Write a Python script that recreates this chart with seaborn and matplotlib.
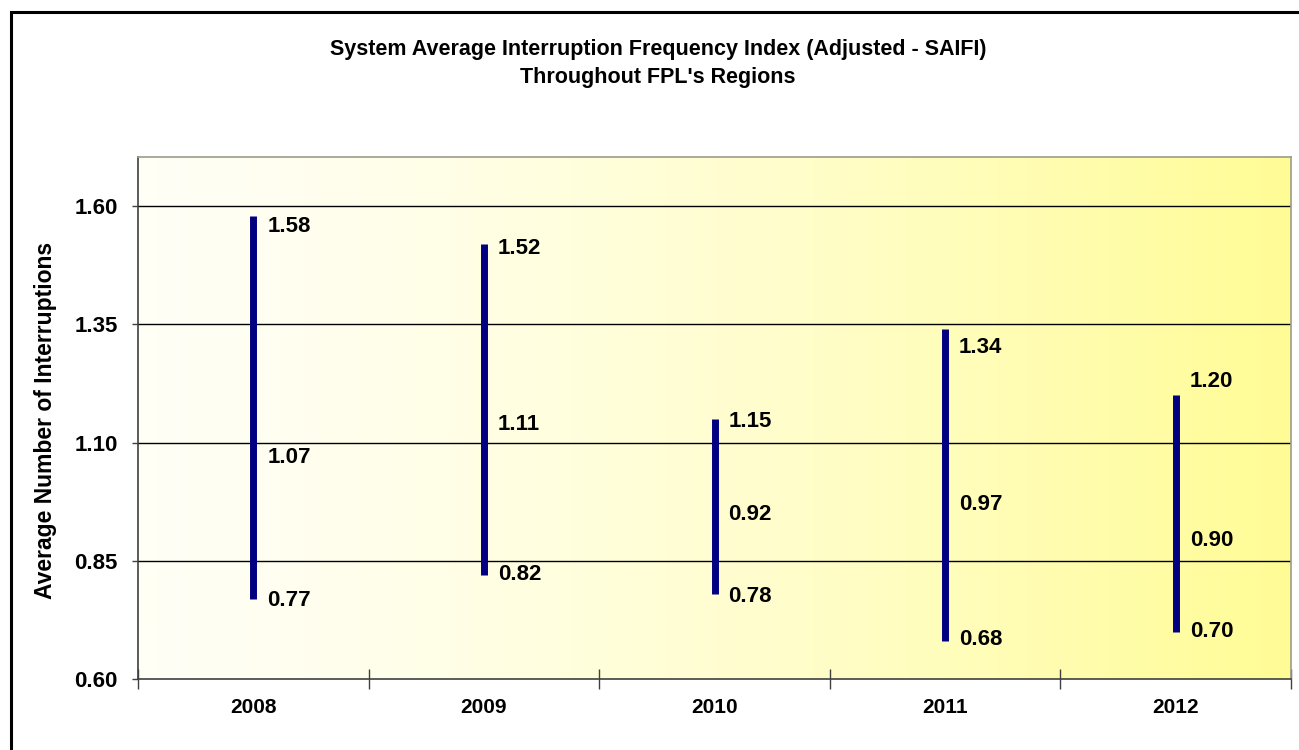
import numpy as np
import pandas as pd
import matplotlib
matplotlib.use("Agg")
import matplotlib.pyplot as plt
from matplotlib.patches import Rectangle
from matplotlib.colors import LinearSegmentedColormap
import seaborn as sns

# SAIFI by year: highest, middle and lowest regional values
years = ["2008", "2009", "2010", "2011", "2012"]
high_vals = [1.58, 1.52, 1.15, 1.34, 1.20]
mid_vals = [1.07, 1.11, 0.92, 0.97, 0.90]
low_vals = [0.77, 0.82, 0.78, 0.68, 0.70]
y_ticks = [0.60, 0.85, 1.10, 1.35, 1.60]

# vertical nudges (pixels, positive = down) for the value labels
high_nudge = [11, 5, 3, 18, -14]
mid_nudge = [1, -13, -13, 0, 3]
low_nudge = [2, 0, 3, -2, 0]

sns.set_theme(style="white")
plt.rcParams["font.family"] = ["Liberation Sans", "DejaVu Sans"]
plt.rcParams["font.weight"] = "bold"
plt.rcParams["text.color"] = "black"
plt.rcParams["xtick.color"] = "black"
plt.rcParams["ytick.color"] = "black"

W, H = 1299, 750
fig = plt.figure(figsize=(W / 100, H / 100), dpi=100)
fig.patch.set_facecolor("white")

# outer chart frame
fig.patches.append(Rectangle((11 / W, -0.2), 1.2, (H - 12) / H + 0.2,
                             transform=fig.transFigure, fill=False,
                             edgecolor="black", linewidth=2.2, zorder=0))

ax = fig.add_axes([138 / W, 1 - 679 / H, (1291 - 138) / W, (679 - 157) / H])

# white-to-yellow plot area fill
cmap = LinearSegmentedColormap.from_list("wy", ["#FFFFF5", "#FFFC96"])
grad = np.linspace(0, 1, 512) ** 1.4
ax.imshow(grad[np.newaxis, :], aspect="auto", cmap=cmap, vmin=0, vmax=1,
          extent=[0, 1, 0, 1], transform=ax.transAxes, zorder=0)

pos = np.arange(len(years))
df = pd.DataFrame({
    "year": years * 2,
    "pos": np.concatenate([pos, pos]),
    "value": low_vals + high_vals,
})
sns.lineplot(data=df, x="pos", y="value", units="year", estimator=None,
             color="#000080", linewidth=5, ax=ax, zorder=3,
             solid_capstyle="butt", legend=False)

ax.set_xlim(-0.5, len(years) - 0.5)
ax.set_ylim(0.60, 1.704)

for yv in y_ticks[1:]:
    ax.axhline(yv, color="black", linewidth=1.0, zorder=2)

def label(i, v, nudge):
    ax.annotate(f"{v:.2f}", xy=(pos[i], v), xytext=(14 * 0.72, -nudge * 0.72),
                textcoords="offset points", ha="left", va="center",
                fontsize=16, fontweight="bold", color="black", zorder=4)

for i in range(len(years)):
    label(i, high_vals[i], high_nudge[i])
    label(i, mid_vals[i], mid_nudge[i])
    label(i, low_vals[i], low_nudge[i])

# axes ticks
ax.set_yticks(y_ticks)
ax.set_yticklabels([f"{v:.2f}" for v in y_ticks], fontsize=16, fontweight="bold")
ax.set_xticks(pos)
ax.set_xticklabels(years, fontsize=15, fontweight="bold")
ax.set_xticks(np.arange(-0.5, len(years), 1.0), minor=True)
ax.tick_params(axis="x", which="major", length=0, pad=14)
ax.tick_params(axis="x", which="minor", length=14, width=1, direction="inout",
               color="#404040", bottom=True)
ax.tick_params(axis="y", which="major", length=4.5, width=1, direction="out",
               color="#404040", left=True, pad=10)
ax.set_xlabel("")
ax.set_ylabel("")

for side in ["left", "bottom"]:
    ax.spines[side].set_color("#404040")
    ax.spines[side].set_linewidth(1.2)
for side in ["top", "right"]:
    ax.spines[side].set_color("#9C9C8A")
    ax.spines[side].set_linewidth(1.2)

fig.text(46 / W, 1 - 420 / H, "Average Number of Interruptions", rotation=90,
         ha="center", va="center", fontsize=16.5, fontweight="bold")
fig.text(658 / W, 1 - 49 / H,
         "System Average Interruption Frequency Index (Adjusted - SAIFI)",
         ha="center", va="center", fontsize=15.5, fontweight="bold")
fig.text(658 / W, 1 - 78 / H, "Throughout FPL's Regions",
         ha="center", va="center", fontsize=15.5, fontweight="bold")

fig.savefig("out.png", dpi=100)
